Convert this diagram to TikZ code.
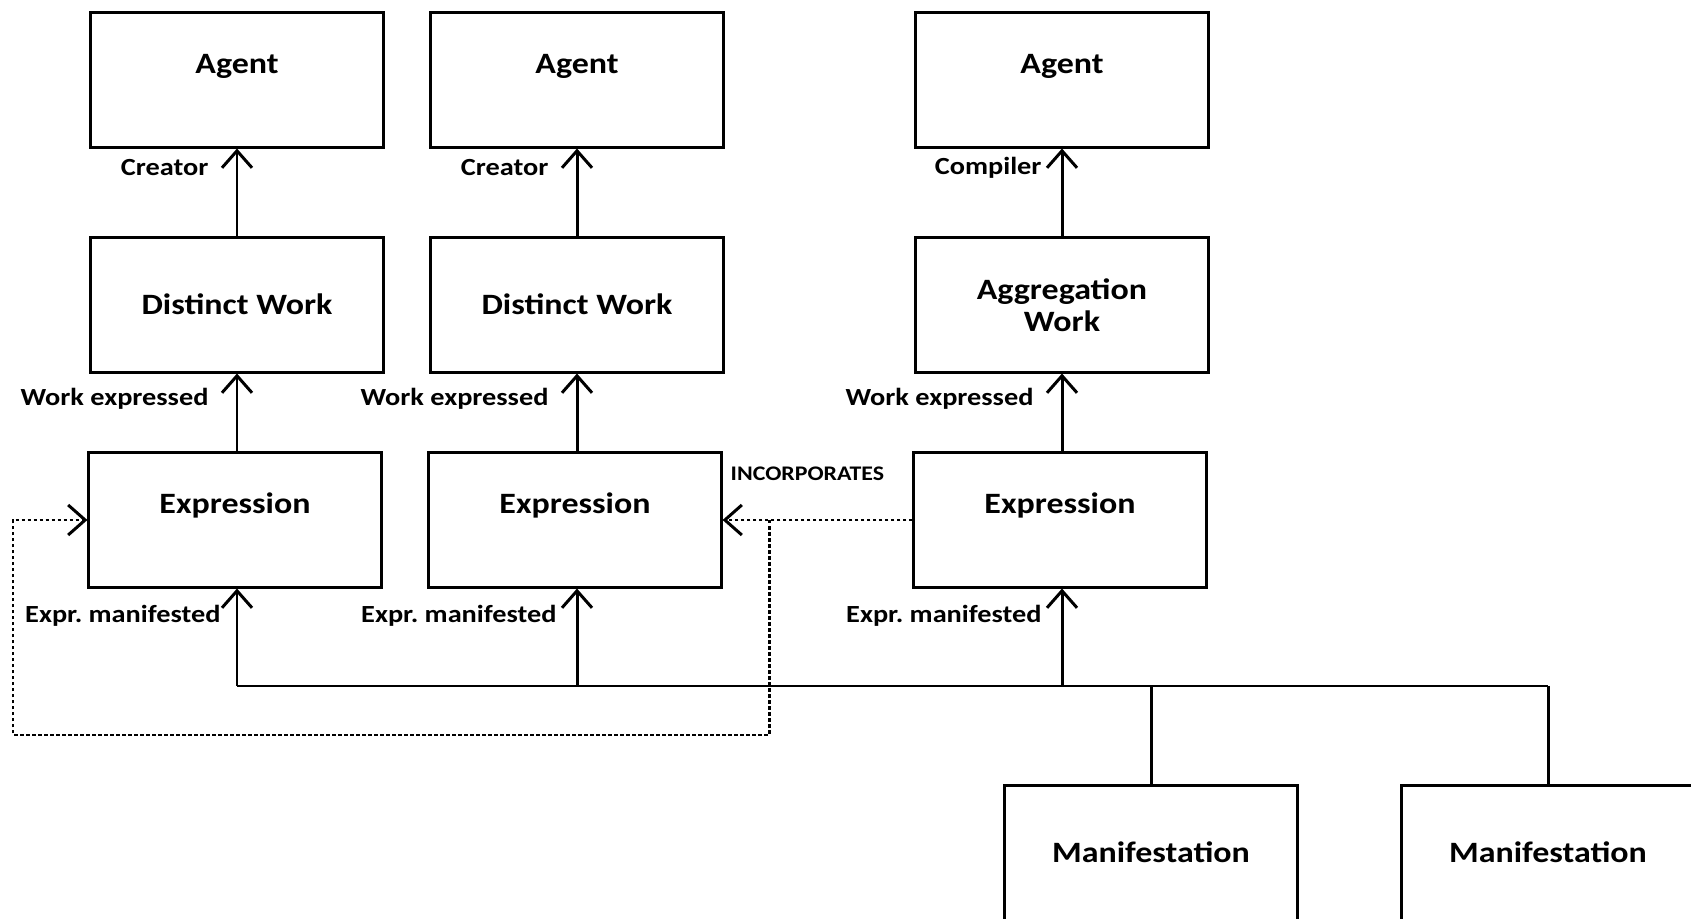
\documentclass[tikz,border=0pt]{standalone}
\usepackage{fontspec}
\setmainfont{Carlito}[FakeStretch=1.15]
\usetikzlibrary{arrows.meta,positioning}

\tikzset{
  entity/.style={draw, line width=0.85pt, minimum width=2.92cm, minimum height=1.34cm,
    inner sep=0pt, font=\fontsize{8.4}{9.1}\selectfont\bfseries},
  flat/.style={text height=0.19cm, text depth=0cm},
  hightext/.style={text height=0.19cm, text depth=0.32cm},
  link/.style={line width=0.85pt},
  rel/.style={line width=0.85pt, -{Straight Barb[length=0.17cm,width=0.3cm,line width=0.85pt]}},
  incl/.style={line width=0.85pt, dash pattern=on 0.035cm off 0.025cm},
  lbl/.style={font=\fontsize{7}{8}\selectfont\bfseries, inner sep=0pt},
  smalllbl/.style={font=\fontsize{5.9}{7}\selectfont\bfseries, inner sep=0pt},
}

\begin{document}
\begin{tikzpicture}[x=0.01cm, y=-0.01cm]
  \useasboundingbox (0,0) rectangle (1691,919);

  % agents
  \node[entity, hightext] (ag1) at (237,80) {Agent};
  \node[entity, hightext] (ag2) at (577,80) {Agent};
  \node[entity, hightext] (ag3) at (1062,80) {Agent};

  % works
  \node[entity, flat] (wk1) at (237,305) {Distinct Work};
  \node[entity, flat] (wk2) at (577,305) {Distinct Work};
  \node[entity, align=center] (wk3) at (1062,305) {Aggregation\\Work};

  % expressions
  \node[entity, hightext] (ex1) at (235,520) {Expression};
  \node[entity, hightext] (ex2) at (575,520) {Expression};
  \node[entity, hightext] (ex3) at (1060,520) {Expression};

  % manifestations
  \node[entity, flat] (mf1) at (1151,853) {Manifestation};
  \node[entity, flat] (mf2) at (1548,853) {Manifestation};

  % work -> agent
  \draw[rel] (wk1) -- node[lbl, pos=0.78, left=0.27cm] (cr1) {Creator} (ag1);
  \draw[rel] (wk2) -- node[lbl, pos=0.78, left=0.27cm] (cr2) {Creator} (ag2);
  \draw[rel] (wk3) -- node[lbl, pos=0.78, left=0.19cm] (cp3) {Compiler} (ag3);

  % expression -> work
  \draw[rel] (ex1.north -| wk1) -- node[lbl, pos=0.67, left=0.27cm] (we1) {Work expressed} (wk1);
  \draw[rel] (ex2.north -| wk2) -- node[lbl, pos=0.67, left=0.27cm] (we2) {Work expressed} (wk2);
  \draw[rel] (ex3.north -| wk3) -- node[lbl, pos=0.67, left=0.27cm] (we3) {Work expressed} (wk3);

  % manifestation bus
  \coordinate (b1) at (237,686);
  \coordinate (b2) at (577,686);
  \coordinate (b3) at (1062,686);
  \coordinate (b4) at (1151,686);
  \coordinate (b5) at (1548,686);
  \draw[link] (b1) -- (b5);
  \draw[link] (b4) -- (mf1);
  \draw[link] (b5) -- (mf2);
  \draw[rel] (b1) -- node[lbl, pos=0.72, left=0.15cm] (em1) {Expr.\ manifested} (b1 |- ex1.south);
  \draw[rel] (b2) -- node[lbl, pos=0.72, left=0.19cm] (em2) {Expr.\ manifested} (b2 |- ex2.south);
  \draw[rel] (b3) -- node[lbl, pos=0.72, left=0.19cm] (em3) {Expr.\ manifested} (b3 |- ex3.south);

  % incorporates
  \coordinate (dj) at (769,520);
  \coordinate (dd) at (769,735);
  \coordinate (dl) at (13,735);
  \coordinate (du) at (13,520);
  \draw[incl, -{Straight Barb[length=0.17cm,width=0.3cm,line width=0.85pt]}] (ex3) -- (ex2);
  \draw[incl, -{Straight Barb[length=0.17cm,width=0.3cm,line width=0.85pt]}] (dj) -- (dd) -- (dl) -- (du) -- (ex1);
  \node[smalllbl, anchor=west] (inc) at (730,474) {INCORPORATES};
\end{tikzpicture}
\end{document}
